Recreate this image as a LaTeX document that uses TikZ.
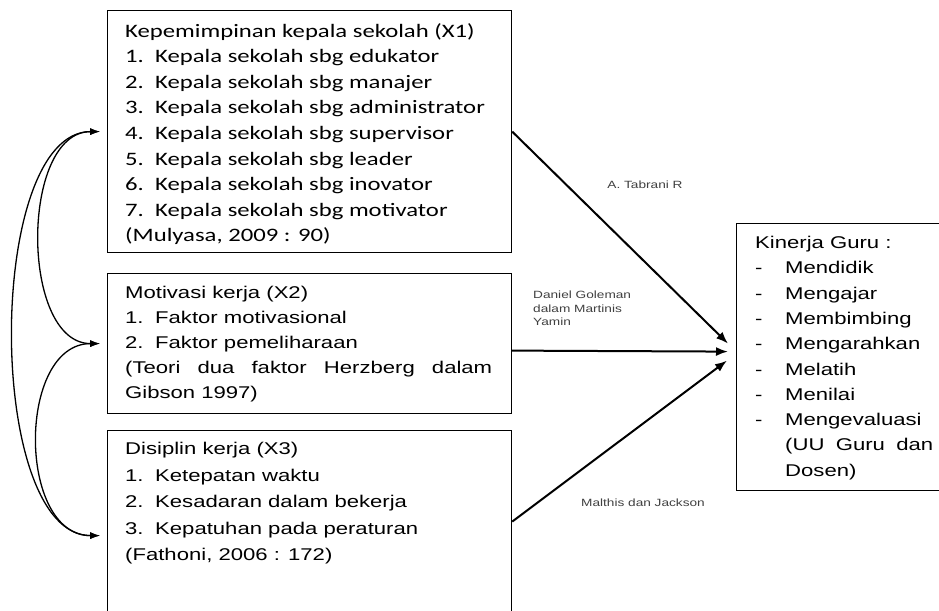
\documentclass[tikz,border=0pt]{standalone}
\usepackage{fontspec}
\newfontfamily\calibri[FakeStretch=1.3]{Carlito}
\newfontfamily\arial[FakeStretch=1.3]{Liberation Sans}
\usetikzlibrary{arrows.meta}

\newcommand{\itm}[1]{\makebox[30pt][l]{#1}}

\tikzstyle{varbox} = [
    rectangle, draw=black, line width=1.2pt,
    anchor=north west, inner sep=0pt
]
\tikzstyle{boxtext} = [
    anchor=north west, inner sep=0pt,
    align=left, text=black
]
\tikzstyle{srclabel} = [
    font=\arial\fontsize{10.5}{13.5}\selectfont,
    text=black!75, inner sep=0pt
]
\tikzstyle{arrow} = [line width=2pt, -{Latex[length=12pt,width=9pt]}]
\tikzstyle{corr} = [line width=1.3pt,
    {Latex[length=10pt,width=7pt]}-{Latex[length=10pt,width=7pt]}]

\begin{document}
\begin{tikzpicture}[x=1pt, y=-1pt]
    \useasboundingbox (0,0) rectangle (939,610);
    \clip (0,0) rectangle (939,610);

    % Draw blocks
    \node (x1) [varbox, minimum width=404pt, minimum height=242pt] at (107,10) {};
    \node (x2) [varbox, minimum width=404pt, minimum height=140pt] at (107,273) {};
    \node (x3) [varbox, minimum width=404pt, minimum height=182pt] at (107,430) {};
    \node (kg) [varbox, minimum width=230pt, minimum height=267pt] at (736,223) {};

    % Box texts
    \node (t1) [boxtext, font=\calibri\fontsize{19}{25.6}\selectfont] at (125,23) {
        Kepemimpinan kepala sekolah (X1)\\
        \itm{1.}Kepala sekolah sbg edukator\\
        \itm{2.}Kepala sekolah sbg manajer\\
        \itm{3.}Kepala sekolah sbg administrator\\
        \itm{4.}Kepala sekolah sbg supervisor\\
        \itm{5.}Kepala sekolah sbg leader\\
        \itm{6.}Kepala sekolah sbg inovator\\
        \itm{7.}Kepala sekolah sbg motivator\\
        (Mulyasa, 2009 : 90)};
    \node (t2) [boxtext, font=\arial\fontsize{17}{25}\selectfont] at (125,286) {
        Motivasi kerja (X2)\\
        \itm{1.}Faktor motivasional\\
        \itm{2.}Faktor pemeliharaan\\
        \makebox[367pt][s]{(Teori dua faktor Herzberg dalam}\\
        Gibson 1997)};
    \node (t3) [boxtext, font=\arial\fontsize{17}{26.6}\selectfont] at (125,442) {
        Disiplin kerja (X3)\\
        \itm{1.}Ketepatan waktu\\
        \itm{2.}Kesadaran dalam bekerja\\
        \itm{3.}Kepatuhan pada peraturan\\
        (Fathoni, 2006 : 172)};
    \node (t4) [boxtext, font=\arial\fontsize{17}{25.3}\selectfont] at (755,236) {
        Kinerja Guru :\\
        \itm{-}Mendidik\\
        \itm{-}Mengajar\\
        \itm{-}Membimbing\\
        \itm{-}Mengarahkan\\
        \itm{-}Melatih\\
        \itm{-}Menilai\\
        \itm{-}Mengevaluasi\\
        \hspace*{30pt}\makebox[148pt][s]{(UU Guru dan}\\
        \hspace*{30pt}Dosen)};

    % Source labels
    \node (s1) [srclabel] at (645,185) {A. Tabrani R};
    \node (s2) [srclabel, anchor=north west, align=left] at (533,291) {Daniel Goleman\\dalam Martinis\\Yamin};
    \node (s3) [srclabel] at (643,503) {Malthis dan Jackson};

    % Draw arrows
    \draw [arrow] (x1.east) -- ([xshift=-8pt, yshift=13.5pt]kg.west);
    \draw [arrow] ([yshift=-7pt]x2.east) -- ([xshift=-8pt, yshift=5.5pt]kg.west);
    \draw [arrow] (x3.east) -- ([xshift=-9pt, yshift=-3.5pt]kg.west);

    % Correlations
    \draw [corr] ([xshift=-7pt]x1.west) .. controls +(-80,0) and +(-80,0) .. ([xshift=-7pt]x2.west);
    \draw [corr] ([xshift=-7pt]x2.west) .. controls +(-83,0) and +(-83,0) .. ([xshift=-7pt, yshift=-14pt]x3.west);
    \draw [corr] ([xshift=-7pt]x1.west) .. controls +(-115,0) and +(-115,0) .. ([xshift=-7pt, yshift=-14pt]x3.west);
\end{tikzpicture}
\end{document}
